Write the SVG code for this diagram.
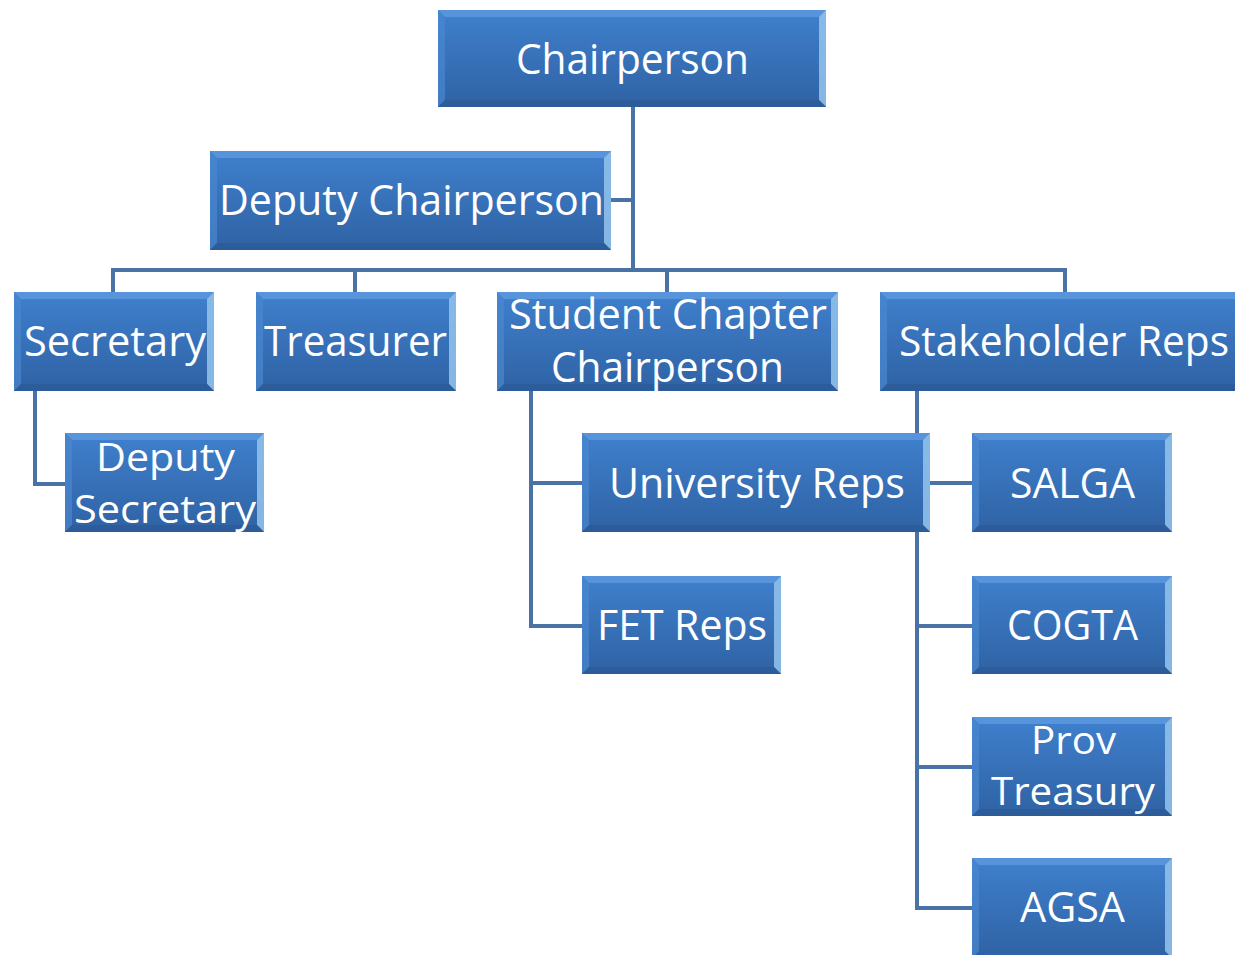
<svg xmlns="http://www.w3.org/2000/svg" width="1235" height="955" viewBox="0 0 1235 955">
<defs>
<linearGradient id="g" x1="0" y1="0" x2="0" y2="1">
<stop offset="0" stop-color="#3f80cd"/>
<stop offset="1" stop-color="#2f62a4"/>
</linearGradient>
</defs>
<style>
.m{fill:url(#g);}
.bt{fill:#5e9ade;opacity:0.8;}
.bl{fill:#4a88d0;opacity:0.7;}
.br{fill:#8fc0ea;opacity:0.9;}
.bb{fill:#2c5a96;opacity:0.8;}
.c{fill:none;stroke:#4a72a6;stroke-width:4;}
text{font-family:"Open Sans","Noto Sans",sans-serif;font-size:42px;fill:#ffffff;text-anchor:middle;}
text.s{font-size:39px;}
</style>
<rect width="1235" height="955" fill="#ffffff"/>
<g id="connectors">
<path class="c" d="M633,107 V270"/>
<path class="c" d="M611,200 H633"/>
<path class="c" d="M113,292 V270 H1065 V292"/>
<path class="c" d="M355,270 V292"/>
<path class="c" d="M667,270 V292"/>
<path class="c" d="M35,391 V484 H65"/>
<path class="c" d="M531,391 V626 H582"/>
<path class="c" d="M531,483 H582"/>
<path class="c" d="M917,391 V908 H972"/>
<path class="c" d="M917,483 H972"/>
<path class="c" d="M917,626 H972"/>
<path class="c" d="M917,767 H972"/>
</g>
<g id="chairperson">
<rect class="m" x="438" y="10" width="388" height="97"/>
<polygon class="bt" points="438,10 826,10 819,17 445,17"/>
<polygon class="bl" points="438,10 445,17 445,100 438,107"/>
<polygon class="br" points="826,10 826,107 819,100 819,17"/>
<polygon class="bb" points="438,107 826,107 819,100 445,100"/>
<text x="632.5" y="74" textLength="233" lengthAdjust="spacingAndGlyphs">Chairperson</text>
</g>
<g id="deputy-chairperson">
<rect class="m" x="210" y="151" width="401" height="99"/>
<polygon class="bt" points="210,151 611,151 604,158 217,158"/>
<polygon class="bl" points="210,151 217,158 217,243 210,250"/>
<polygon class="br" points="611,151 611,250 604,243 604,158"/>
<polygon class="bb" points="210,250 611,250 604,243 217,243"/>
<text x="411.5" y="215" textLength="385" lengthAdjust="spacingAndGlyphs">Deputy Chairperson</text>
</g>
<g id="secretary">
<rect class="m" x="14" y="292" width="200" height="99"/>
<polygon class="bt" points="14,292 214,292 207,299 21,299"/>
<polygon class="bl" points="14,292 21,299 21,384 14,391"/>
<polygon class="br" points="214,292 214,391 207,384 207,299"/>
<polygon class="bb" points="14,391 214,391 207,384 21,384"/>
<text x="115" y="356" textLength="182" lengthAdjust="spacingAndGlyphs">Secretary</text>
</g>
<g id="treasurer">
<rect class="m" x="256" y="292" width="200" height="99"/>
<polygon class="bt" points="256,292 456,292 449,299 263,299"/>
<polygon class="bl" points="256,292 263,299 263,384 256,391"/>
<polygon class="br" points="456,292 456,391 449,384 449,299"/>
<polygon class="bb" points="256,391 456,391 449,384 263,384"/>
<text x="355.5" y="356" textLength="183" lengthAdjust="spacingAndGlyphs">Treasurer</text>
</g>
<g id="student-chapter-chairperson">
<rect class="m" x="497" y="292" width="341" height="99"/>
<polygon class="bt" points="497,292 838,292 831,299 504,299"/>
<polygon class="bl" points="497,292 504,299 504,384 497,391"/>
<polygon class="br" points="838,292 838,391 831,384 831,299"/>
<polygon class="bb" points="497,391 838,391 831,384 504,384"/>
<text x="668" y="329" textLength="318" lengthAdjust="spacingAndGlyphs">Student Chapter</text>
<text x="667.5" y="382" textLength="233" lengthAdjust="spacingAndGlyphs">Chairperson</text>
</g>
<g id="stakeholder-reps">
<rect class="m" x="880" y="292" width="362" height="99"/>
<polygon class="bt" points="880,292 1242,292 1235,299 887,299"/>
<polygon class="bl" points="880,292 887,299 887,384 880,391"/>
<polygon class="bb" points="880,391 1242,391 1235,384 887,384"/>
<text x="1064" y="356" textLength="330" lengthAdjust="spacingAndGlyphs">Stakeholder Reps</text>
</g>
<g id="deputy-secretary">
<rect class="m" x="65" y="433" width="199" height="99"/>
<polygon class="bt" points="65,433 264,433 257,440 72,440"/>
<polygon class="bl" points="65,433 72,440 72,525 65,532"/>
<polygon class="br" points="264,433 264,532 257,525 257,440"/>
<polygon class="bb" points="65,532 264,532 257,525 72,525"/>
<text class="s" x="165.5" y="471" textLength="139" lengthAdjust="spacingAndGlyphs">Deputy</text>
<text class="s" x="165" y="523" textLength="182" lengthAdjust="spacingAndGlyphs">Secretary</text>
</g>
<g id="university-reps">
<rect class="m" x="582" y="433" width="348" height="99"/>
<polygon class="bt" points="582,433 930,433 923,440 589,440"/>
<polygon class="bl" points="582,433 589,440 589,525 582,532"/>
<polygon class="br" points="930,433 930,532 923,525 923,440"/>
<polygon class="bb" points="582,532 930,532 923,525 589,525"/>
<text x="757" y="498" textLength="296" lengthAdjust="spacingAndGlyphs">University Reps</text>
</g>
<g id="salga">
<rect class="m" x="972" y="433" width="200" height="99"/>
<polygon class="bt" points="972,433 1172,433 1165,440 979,440"/>
<polygon class="bl" points="972,433 979,440 979,525 972,532"/>
<polygon class="br" points="1172,433 1172,532 1165,525 1165,440"/>
<polygon class="bb" points="972,532 1172,532 1165,525 979,525"/>
<text x="1072.5" y="498" textLength="125" lengthAdjust="spacingAndGlyphs">SALGA</text>
</g>
<g id="fet-reps">
<rect class="m" x="582" y="576" width="199" height="98"/>
<polygon class="bt" points="582,576 781,576 774,583 589,583"/>
<polygon class="bl" points="582,576 589,583 589,667 582,674"/>
<polygon class="br" points="781,576 781,674 774,667 774,583"/>
<polygon class="bb" points="582,674 781,674 774,667 589,667"/>
<text x="682" y="640" textLength="170" lengthAdjust="spacingAndGlyphs">FET Reps</text>
</g>
<g id="cogta">
<rect class="m" x="972" y="576" width="200" height="98"/>
<polygon class="bt" points="972,576 1172,576 1165,583 979,583"/>
<polygon class="bl" points="972,576 979,583 979,667 972,674"/>
<polygon class="br" points="1172,576 1172,674 1165,667 1165,583"/>
<polygon class="bb" points="972,674 1172,674 1165,667 979,667"/>
<text x="1072.5" y="640" textLength="131" lengthAdjust="spacingAndGlyphs">COGTA</text>
</g>
<g id="prov-treasury">
<rect class="m" x="972" y="717" width="200" height="99"/>
<polygon class="bt" points="972,717 1172,717 1165,724 979,724"/>
<polygon class="bl" points="972,717 979,724 979,809 972,816"/>
<polygon class="br" points="1172,717 1172,816 1165,809 1165,724"/>
<polygon class="bb" points="972,816 1172,816 1165,809 979,809"/>
<text class="s" x="1073.5" y="754" textLength="85" lengthAdjust="spacingAndGlyphs">Prov</text>
<text class="s" x="1073" y="805" textLength="164" lengthAdjust="spacingAndGlyphs">Treasury</text>
</g>
<g id="agsa">
<rect class="m" x="972" y="858" width="200" height="100"/>
<polygon class="bt" points="972,858 1172,858 1165,865 979,865"/>
<polygon class="bl" points="972,858 979,865 979,951 972,958"/>
<polygon class="br" points="1172,858 1172,958 1165,951 1165,865"/>
<text x="1072.5" y="922" textLength="105" lengthAdjust="spacingAndGlyphs">AGSA</text>
</g>
</svg>
